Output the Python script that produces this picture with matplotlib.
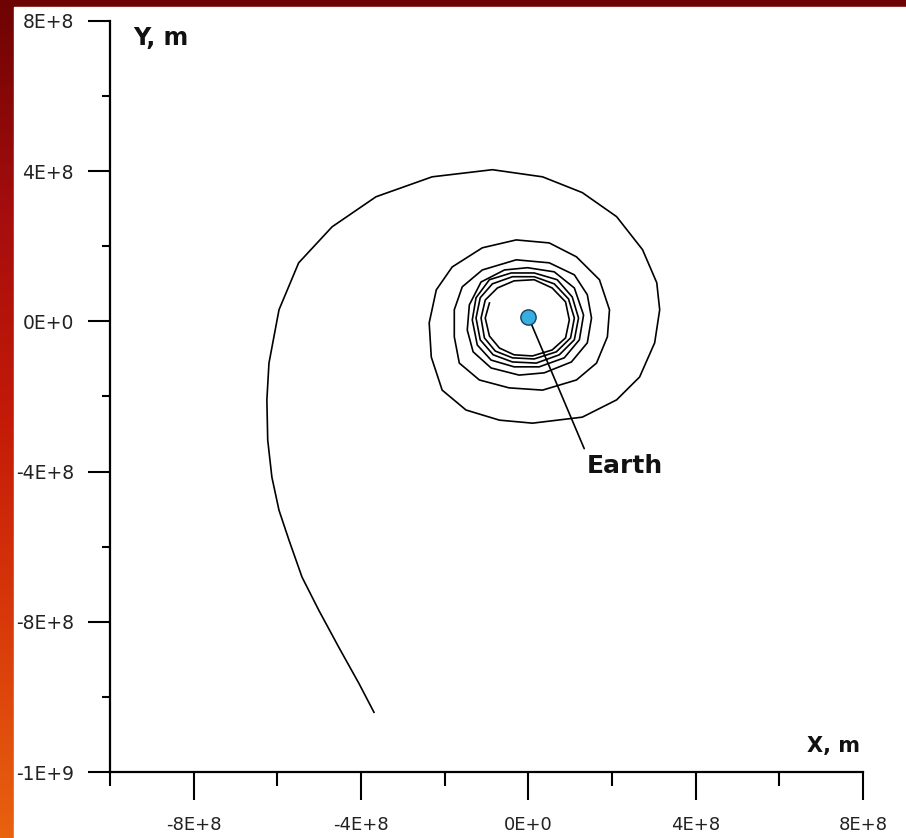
import numpy as np
import matplotlib
matplotlib.use("Agg")
import matplotlib.pyplot as plt
from matplotlib.patches import Rectangle
from matplotlib.colors import LinearSegmentedColormap

# ---- data (units of 1E+8 m) ----
X_E8 = [-3.69, -4.05, -4.53, -5.01, -5.41, -5.72, -5.96, -6.13, -6.23, -6.25,
        -6.20, -5.96, -5.49, -4.69, -3.64, -2.30, -0.86, 0.34, 1.29, 2.11,
        2.73, 3.07, 3.14, 3.02, 2.66, 2.11, 1.29, 0.10, -0.69, -1.49,
        -2.06, -2.32, -2.37, -2.20, -1.82, -1.10, -0.29, 0.50, 1.15, 1.70,
        1.94, 1.89, 1.63, 1.15, 0.34, -0.46, -1.17, -1.65, -1.77, -1.77,
        -1.58, -1.10, -0.29, 0.50, 1.10, 1.41, 1.51, 1.41, 1.03, 0.38,
        -0.22, -0.89, -1.32, -1.46, -1.41, -1.13, -0.57, -0.02, 0.62, 1.10,
        1.32, 1.22, 0.86, 0.26, -0.34, -0.89, -1.22, -1.34, -1.25, -0.93,
        -0.41, 0.14, 0.69, 1.05, 1.20, 1.10, 0.74, 0.19, -0.38, -0.84,
        -1.15, -1.25, -1.15, -0.86, -0.38, 0.14, 0.62, 0.96, 1.10, 1.01,
        0.67, 0.14, -0.38, -0.79, -1.05, -1.13, -1.03, -0.74, -0.34, 0.14,
        0.57, 0.89, 0.98, 0.89, 0.57, 0.10, -0.34, -0.69, -0.93, -1.03,
        -0.93]
Y_E8 = [-10.41, -9.64, -8.68, -7.69, -6.81, -5.83, -5.03, -4.15, -3.16, -2.09,
        -1.11, 0.31, 1.56, 2.52, 3.32, 3.85, 4.04, 3.85, 3.43, 2.79,
        1.91, 1.03, 0.31, -0.57, -1.48, -2.09, -2.55, -2.71, -2.63, -2.36,
        -1.83, -0.95, -0.04, 0.84, 1.45, 1.96, 2.17, 2.09, 1.72, 1.11,
        0.31, -0.41, -1.11, -1.56, -1.83, -1.77, -1.56, -1.11, -0.41, 0.31,
        0.92, 1.37, 1.64, 1.56, 1.24, 0.71, 0.09, -0.57, -1.08, -1.37,
        -1.43, -1.24, -0.81, -0.23, 0.44, 1.05, 1.37, 1.43, 1.32, 0.89,
        0.17, -0.49, -0.97, -1.21, -1.21, -1.03, -0.63, 0.04, 0.63, 1.11,
        1.29, 1.29, 1.11, 0.65, 0.09, -0.49, -0.89, -1.11, -1.08, -0.89,
        -0.49, 0.09, 0.63, 1.00, 1.19, 1.19, 1.00, 0.60, 0.09, -0.44,
        -0.81, -1.00, -0.97, -0.79, -0.44, 0.09, 0.57, 0.89, 1.08, 1.11,
        0.89, 0.52, 0.04, -0.44, -0.76, -0.92, -0.89, -0.71, -0.39, 0.09,
        0.49]
EARTH_X_E8 = 0.0
EARTH_Y_E8 = 0.12

X_MAJOR = [-8e8, -4e8, 0, 4e8, 8e8]
X_MAJOR_LABELS = ["-8E+8", "-4E+8", "0E+0", "4E+8", "8E+8"]
X_MINOR = [-1e9, -6e8, -2e8, 2e8, 6e8]
Y_MAJOR = [8e8, 4e8, 0, -4e8, -8e8, -1.2e9]
Y_MAJOR_LABELS = ["8E+8", "4E+8", "0E+0", "-4E+8", "-8E+8", "-1E+9"]
Y_MINOR = [6e8, 2e8, -2e8, -6e8, -1e9]

x = np.array(X_E8) * 1e8
y = np.array(Y_E8) * 1e8

W, H = 906, 838
fig = plt.figure(figsize=(W / 100, H / 100), dpi=100)

# decorative fiery border
bg = fig.add_axes([0, 0, 1, 1], zorder=-10)
grad = np.linspace(0, 1, 256).reshape(-1, 1)
fire = LinearSegmentedColormap.from_list(
    "fire", ["#6e0303", "#a50d0d", "#c41a08", "#d93a0a", "#e8620f"])
bg.imshow(grad, aspect="auto", cmap=fire, extent=[0, 1, 0, 1], origin="upper")
bg.set_xlim(0, 1); bg.set_ylim(0, 1)
bg.axis("off")
bg.add_patch(Rectangle((14 / W, 0), 1, 1 - 7 / H, color="white", zorder=2))

ax = fig.add_axes([110 / W, (H - 772) / H, 753 / W, 751 / H])
ax.set_facecolor("none")
ax.plot(x, y, color="black", lw=1.2, clip_on=False)
ax.plot([EARTH_X_E8 * 1e8], [EARTH_Y_E8 * 1e8], "o", ms=11, mfc="#36aee0",
        mec="#1c3d5c", mew=1.0, zorder=5)

ax.annotate("Earth", xy=(EARTH_X_E8 * 1e8, EARTH_Y_E8 * 1e8),
            xytext=(1.39e8, -3.85e8), ha="left", va="center",
            fontsize=18, fontweight="bold", family="DejaVu Sans", color="#111111",
            arrowprops=dict(arrowstyle="-", color="black", lw=1.2,
                            relpos=(0.0, 1.0), shrinkA=2, shrinkB=5))

ax.set_xlim(-1e9, 8e8)
ax.set_ylim(-1.2e9, 8e8)
for s in ["top", "right"]:
    ax.spines[s].set_visible(False)
for s in ["left", "bottom"]:
    ax.spines[s].set_linewidth(1.6)
    ax.spines[s].set_color("black")

ax.set_xticks(X_MAJOR)
ax.set_xticklabels(X_MAJOR_LABELS)
ax.set_xticks(X_MINOR, minor=True)
ax.set_yticks(Y_MAJOR)
ax.set_yticklabels(Y_MAJOR_LABELS)
ax.set_yticks(Y_MINOR, minor=True)

ax.tick_params(axis="x", which="major", direction="out", length=20, width=1.5,
               pad=12, labelsize=13, labelcolor="#222222")
ax.tick_params(axis="x", which="minor", direction="out", length=10, width=1.5)
ax.tick_params(axis="y", which="major", direction="out", length=16, width=1.5,
               pad=10, labelsize=13.5, labelcolor="#222222")
ax.tick_params(axis="y", which="minor", direction="out", length=6, width=1.5)

ax.text(0.0305, 0.977, "Y, m", transform=ax.transAxes, ha="left", va="center",
        fontsize=17, fontweight="bold", color="#111111")
ax.text(0.996, 0.0346, "X, m", transform=ax.transAxes, ha="right", va="center",
        fontsize=15, fontweight="bold", color="#111111")

fig.savefig("out.png", dpi=100)
